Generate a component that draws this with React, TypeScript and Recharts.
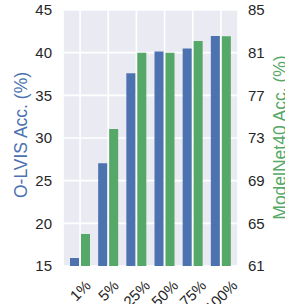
import React from "react"
import { BarChart, Bar, XAxis, YAxis, CartesianGrid } from "recharts"

const categories = ["1%", "5%", "25%", "50%", "75%", "100%"]
const olvisAcc = [15.95, 27.05, 37.6, 40.15, 40.5, 41.95]
const modelnetAcc = [64.0, 73.85, 81.0, 81.0, 82.1, 82.55]
const leftTicks = [15, 20, 25, 30, 35, 40, 45]
const rightTicks = [61, 65, 69, 73, 77, 81, 85]

const data = categories.map((name, i) => ({
  name,
  olvis: olvisAcc[i],
  modelnet: modelnetAcc[i],
}))

const FONT = "'Liberation Sans', Arial, sans-serif"
const BLUE = "#4C72B0"
const GREEN = "#55A868"
const TEXT = "#262626"

const ANGLE = 45

// rotated x tick: box centred on the tick, top edge at a fixed line
function XTick(props: any) {
  const { x, payload } = props
  const label: string = payload.value
  const fs = 15
  const digits = label.replace("%", "").length
  const w = fs * (0.556 * digits + 0.889)
  const h = fs * 0.7
  const rad = (ANGLE * Math.PI) / 180
  const half = (w * Math.sin(rad) + h * Math.cos(rad)) / 2
  const cy = 279 + half
  return (
    <text
      x={x}
      y={cy}
      textAnchor="middle"
      dominantBaseline="central"
      fontSize={fs}
      fontFamily={FONT}
      fill={TEXT}
      transform={`rotate(${-ANGLE}, ${x}, ${cy})`}
    >
      {label}
    </text>
  )
}

export default function App() {
  return (
    <div style={{ position: "absolute", left: 0, top: 0, background: "#fff" }}>
      <BarChart
        width={285}
        height={304}
        data={data}
        margin={{ top: 10, right: 0, bottom: 0, left: 0 }}
        barCategoryGap={4}
        barGap={2}
      >
        <CartesianGrid
          yAxisId="left"
          fill="#EAEAF2"
          stroke="#ffffff"
          strokeWidth={1.6}
          fillOpacity={1}
        />
        <XAxis
          dataKey="name"
          height={38}
          padding={{ left: 3, right: 3 }}
          axisLine={false}
          tickLine={false}
          interval={0}
          tick={<XTick />}
        />
        <YAxis
          yAxisId="left"
          orientation="left"
          width={63}
          domain={[15, 45]}
          ticks={leftTicks}
          allowDataOverflow
          axisLine={false}
          tickLine={false}
          tickSize={0}
          tickMargin={11}
          tick={{ fontSize: 15, fontFamily: FONT, fill: TEXT }}
          label={(p: any) => {
            const vb = p.viewBox || { x: 0, y: 10, width: 63, height: 256 }
            const cx = 26.5
            const cy = vb.y + vb.height / 2 - 3
            return (
              <text
                x={cx}
                y={cy}
                textAnchor="middle"
                fontSize={17.5}
                fontFamily={FONT}
                fill={BLUE}
                transform={`rotate(-90, ${cx}, ${cy})`}
              >
                O-LVIS Acc. (%)
              </text>
            )
          }}
        />
        <YAxis
          yAxisId="right"
          orientation="right"
          width={47}
          domain={[61, 85]}
          ticks={rightTicks}
          allowDataOverflow
          axisLine={false}
          tickLine={false}
          tickSize={0}
          tickMargin={10}
          tick={{ fontSize: 15, fontFamily: FONT, fill: TEXT }}
          label={(p: any) => {
            const vb = p.viewBox || { x: 238, y: 10, width: 47, height: 256 }
            const cx = 286
            const cy = vb.y + vb.height / 2 - 0.5
            return (
              <text
                x={cx}
                y={cy}
                textAnchor="middle"
                fontSize={17.5}
                fontFamily={FONT}
                fill={GREEN}
                transform={`rotate(-90, ${cx}, ${cy})`}
              >
                ModelNet40 Acc. (%)
              </text>
            )
          }}
        />
        <Bar yAxisId="left" dataKey="olvis" fill={BLUE} isAnimationActive={false} />
        <Bar yAxisId="right" dataKey="modelnet" fill={GREEN} isAnimationActive={false} />
      </BarChart>
    </div>
  )
}
